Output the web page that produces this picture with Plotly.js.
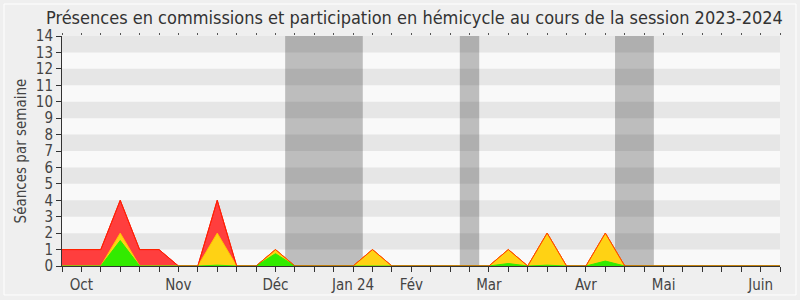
<!DOCTYPE html>
<html>
<head>
<meta charset="utf-8">
<script src="https://cdn.plot.ly/plotly-3.0.1.min.js"></script>
<style>html,body{margin:0;padding:0;background:#efefef;}#chart{width:800px;height:300px;}</style>
</head>
<body>
<div id="chart"></div>
<script>
// Week index (0 = week of 25 Sept 2023 ... 37)
var weeks = [];
for (var i = 0; i <= 37; i++) weeks.push(i);

var monthTickWeeks = [1, 6, 11, 15, 18, 22, 27, 31, 36];
var monthLabels = ["Oct", "Nov", "Déc", "Jan 24", "Fév", "Mar", "Avr", "Mai", "Juin"];

// Presence in commission (red)
var commission = [1,1,1,4,1,1,0,0,4,0,0,1,0,0,0,0,1,0,0,0,0,0,0,1,0,2,0,0,2,0,0,0,0,0,0,0,0,0];
// Presence in hemicycle (yellow)
var hemicycle  = [0,0,0,2,0,0,0,0,2,0,0,1,0,0,0,0,1,0,0,0,0,0,0,1,0,2,0,0,2,0,0,0,0,0,0,0,0,0];
// Interventions (green)
var interventions = [0,0,0,1.55,0,0,0,0,0.05,0,0,0.75,0,0,0,0,0,0,0,0,0,0,0,0.15,0,0.05,0,0,0.3,0,0,0,0,0,0,0,0,0];

// Vacation periods (week ranges)
var vacStart = [11.5, 20.5, 28.5];
var vacEnd   = [15.5, 21.5, 30.5];

var yMax = 14;
var xMax = 37;

var tickText = weeks.map(function(w){
  var k = monthTickWeeks.indexOf(w);
  return k >= 0 ? monthLabels[k] : "";
});

var shapes = [];
for (var n = 1; n < yMax; n += 2) {
  shapes.push({type:'rect', xref:'x', yref:'y', x0:0, x1:xMax, y0:n, y1:n+1,
    fillcolor:'#e6e6e6', line:{width:0}, layer:'below'});
}
for (var v = 0; v < vacStart.length; v++) {
  shapes.push({type:'rect', xref:'x', yref:'y', x0:vacStart[v], x1:vacEnd[v], y0:0, y1:yMax,
    fillcolor:'rgba(0,0,0,0.24)', line:{width:0}, layer:'below'});
}
// outer frame
shapes.push({type:'rect', xref:'paper', yref:'paper', x0:-0.0808, x1:1.0223, y0:-0.126, y1:1.139,
  fillcolor:'rgba(0,0,0,0)', line:{color:'#ffffff', width:1}, layer:'below'});

var traces = [
  {x: weeks, y: commission, type:'scatter', mode:'lines', fill:'tozeroy',
   fillcolor:'rgb(255,62,62)', line:{color:'#ff0000', width:1}, hoverinfo:'skip', showlegend:false},
  {x: weeks, y: hemicycle, type:'scatter', mode:'lines', fill:'tozeroy',
   fillcolor:'rgb(255,210,20)', line:{color:'rgb(255,200,0)', width:1}, hoverinfo:'skip', showlegend:false},
  {x: weeks, y: interventions, type:'scatter', mode:'lines', fill:'tozeroy',
   fillcolor:'rgb(50,235,0)', line:{color:'rgb(50,235,0)', width:1}, hoverinfo:'skip', showlegend:false},
  {x: weeks, y: commission, type:'scatter', mode:'lines',
   line:{color:'rgba(255,40,0,0.85)', width:1}, hoverinfo:'skip', showlegend:false}
];

var font = "'DejaVu Sans Condensed', 'DejaVu Sans', sans-serif";
var layout = {
  width: 800, height: 300,
  margin: {l:62, r:20, t:36, b:34},
  paper_bgcolor: '#efefef',
  plot_bgcolor: '#f9f9f9',
  title: {text: "Présences en commissions et participation en hémicycle au cours de la session 2023-2024",
    font:{family:font, size:18, color:'#333333'}, x:0.518, xanchor:'center', y:0.94, yanchor:'middle'},
  xaxis: {range:[0, xMax], tickmode:'array', tickvals: weeks, ticktext: tickText,
    ticks:'outside', ticklen:5, tickcolor:'#333333', showgrid:false, zeroline:false,
    showline:true, linecolor:'#333333', linewidth:1, tickangle:0,
    tickfont:{family:font, size:15, color:'#444444'}, fixedrange:true},
  xaxis2: {range:[0, xMax], overlaying:'x', side:'top', tickmode:'array', tickvals: weeks,
    ticktext: weeks.map(function(){return '';}), ticks:'outside', ticklen:2, tickcolor:'#555555',
    showgrid:false, zeroline:false, showline:false},
  yaxis: {range:[0, yMax], tickmode:'linear', tick0:0, dtick:1, ticks:'outside', ticklen:5,
    tickcolor:'#333333', showgrid:false, zeroline:false, showline:true, linecolor:'#333333', linewidth:1,
    tickfont:{family:font, size:15, color:'#444444'},
    title:{text:'Séances par semaine', font:{family:font, size:15, color:'#444444'}, standoff:5}, fixedrange:true},
  shapes: shapes
};
// dummy trace for top axis
traces.push({x:[0], y:[0], xaxis:'x2', type:'scatter', mode:'markers', marker:{opacity:0}, hoverinfo:'skip', showlegend:false});

Plotly.newPlot('chart', traces, layout, {displayModeBar:false, staticPlot:true});
</script>
</body>
</html>
